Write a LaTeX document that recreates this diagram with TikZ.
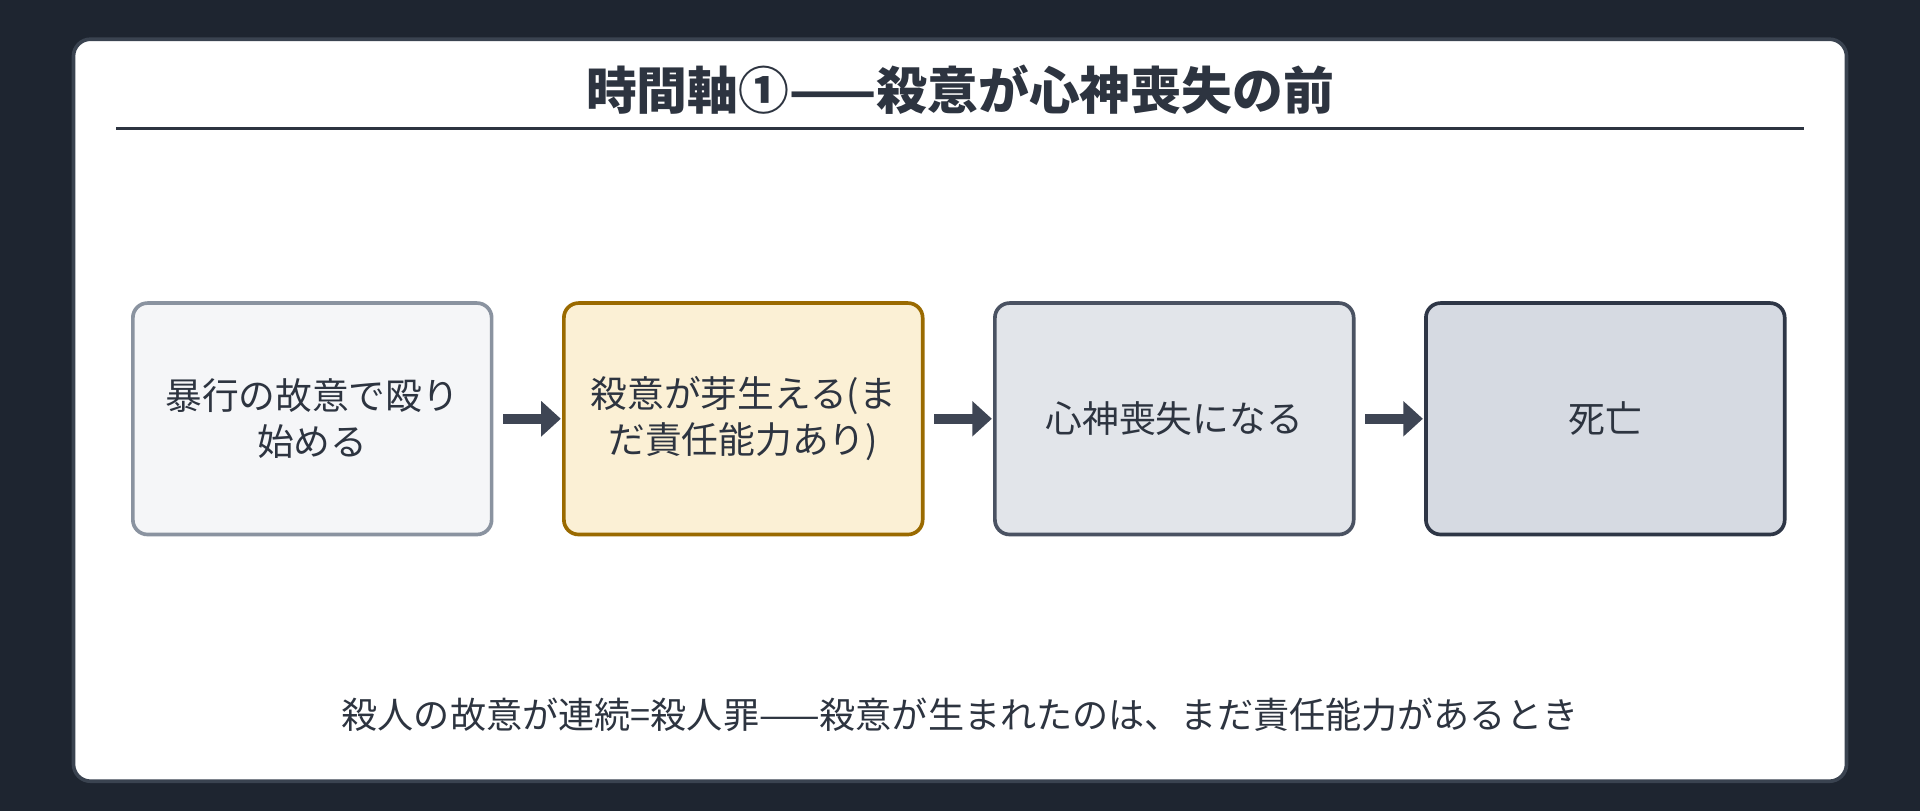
\documentclass[tikz,border=0pt]{standalone}
\usepackage{fontspec}
\setmainfont{Noto Sans CJK JP}
\usetikzlibrary{arrows.meta}
\definecolor{bg}{HTML}{1E2530}
\definecolor{cardb}{HTML}{3A4350}
\definecolor{txt}{HTML}{2D3440}
\definecolor{arr}{HTML}{3E4554}
\begin{document}
\begin{tikzpicture}[x=1pt,y=-1pt,
 box/.style={draw,line width=3pt,rounded corners=12pt,minimum width=293pt,minimum height=189pt,anchor=north west,align=center,font=\fontsize{30}{38}\selectfont,text=txt},
 conn/.style={arr,line width=8pt,-{Triangle[length=16pt,width=28pt]},shorten <=8pt,shorten >=1pt}]
\fill[bg] (0,0) rectangle (1568,662);
\useasboundingbox (0,0) rectangle (1568,662);
\draw[fill=white,draw=cardb,line width=3pt,rounded corners=14pt] (60,32) rectangle (1508,638);
\node[font=\fontsize{41.5}{44}\selectfont\bfseries,text=txt] (title) at (784,73) {時間軸①——殺意が心神喪失の前};
\draw[txt,line width=2.2pt] (95,105) -- (1473,105);
\node[box,fill={rgb,255:red,245;green,246;blue,248},draw={rgb,255:red,138;green,147;blue,160}] (b1) at (107,246) {暴行の故意で殴り\\始める};
\node[box,fill={rgb,255:red,251;green,240;blue,213},draw={rgb,255:red,154;green,106;blue,0}] (b2) at (459,246) {殺意が芽生える(ま\\だ責任能力あり)};
\node[box,fill={rgb,255:red,226;green,229;blue,234},draw={rgb,255:red,74;green,82;blue,98}] (b3) at (811,246) {心神喪失になる};
\node[box,fill={rgb,255:red,214;green,218;blue,226},draw={rgb,255:red,46;green,54;blue,70}] (b4) at (1163,246) {死亡};
\draw[conn] (b1.east) -- (b2.west);
\draw[conn] (b2.east) -- (b3.west);
\draw[conn] (b3.east) -- (b4.west);
\node[font=\fontsize{29.5}{32}\selectfont,text=txt] (note) at (784,584) {殺人の故意が連続=殺人罪——殺意が生まれたのは、まだ責任能力があるとき};
\end{tikzpicture}
\end{document}
